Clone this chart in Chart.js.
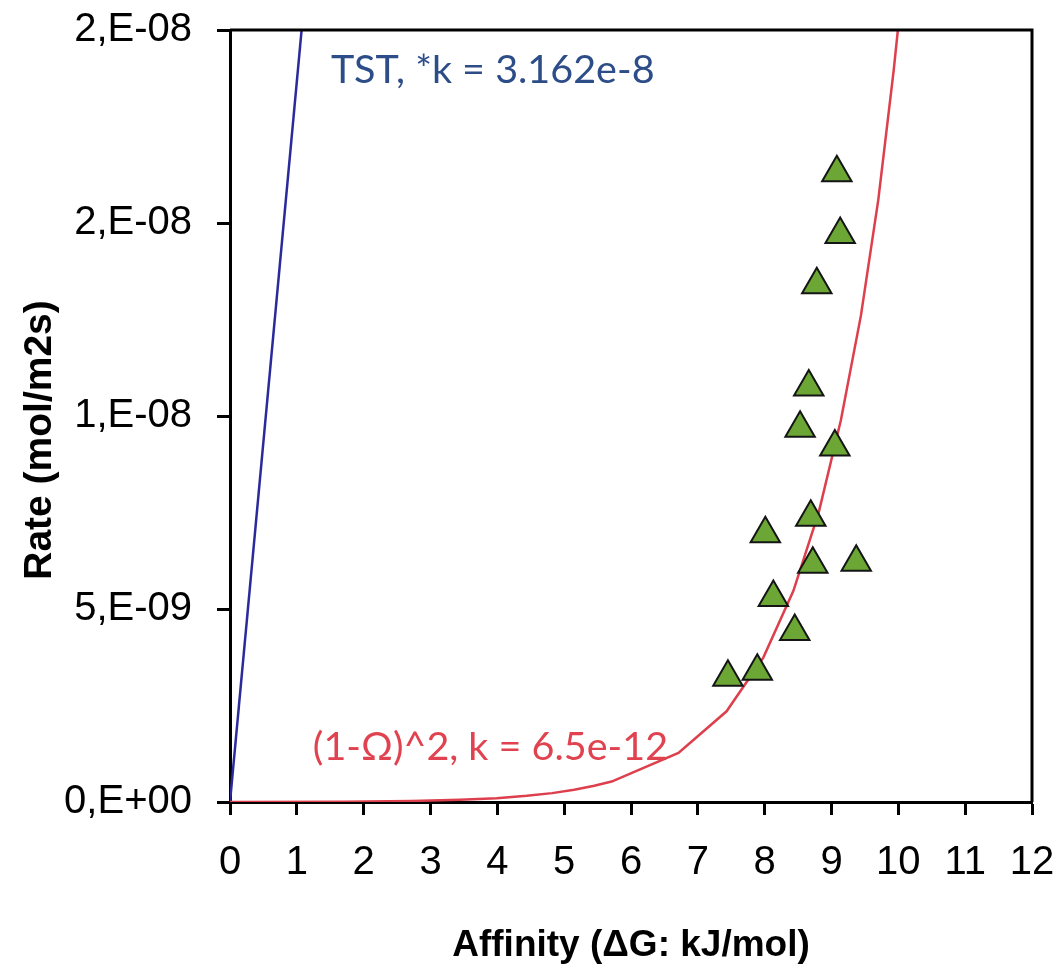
<!DOCTYPE html>
<html>
<head>
<meta charset="utf-8">
<script src="https://cdn.jsdelivr.net/npm/chart.js@4.4.1/dist/chart.umd.min.js"></script>
<style>
  html, body { margin: 0; padding: 0; background: #fff; }
  #wrap { width: 1059px; height: 971px; position: relative; }
</style>
</head>
<body>
<div id="wrap"><canvas id="c"></canvas></div>
<script>
/* Rate vs affinity: measured points + two rate laws */

// measured rates (triangles)
const obsAffinity = [9.08, 9.13, 8.78, 8.66, 8.53, 9.05, 8.69, 8.01, 8.72, 9.37, 8.13, 8.45, 7.89, 7.45];
const obsRate = [16.3e-9, 14.7e-9, 13.4e-9, 10.75e-9, 9.68e-9, 9.2e-9, 7.38e-9, 6.95e-9, 6.16e-9, 6.21e-9, 5.3e-9, 4.42e-9, 3.39e-9, 3.23e-9];

// (1-Ω)^2 law, red curve
const sqAffinity = [0, 1.72, 2.72, 3.44, 3.99, 4.44, 4.82, 5.15, 5.45, 5.71, 6.71, 7.43, 7.98, 8.43, 8.81, 9.14, 9.44, 9.70, 9.93, 10.15];
const sqRate = [0, 0.007e-9, 0.026e-9, 0.06e-9, 0.10e-9, 0.16e-9, 0.23e-9, 0.32e-9, 0.42e-9, 0.53e-9, 1.27e-9, 2.35e-9, 3.74e-9, 5.47e-9, 7.51e-9, 9.89e-9, 12.6e-9, 15.6e-9, 18.95e-9, 22.6e-9];

// TST law, blue line (runs off the top)
const tstAffinity = [0, 1.5];
const tstRate = [0, 2.8e-8];

const yTickLabels = ['0,E+00', '5,E-09', '1,E-08', '2,E-08', '2,E-08'];

// curve labels, anchored in data units (left / baseline)
const noteText = ['TST, *k = 3.162e-8', '(1-\u03A9)^2, k = 6.5e-12'];
const noteX = [1.51, 1.24];
const noteY = [18.63e-9, 1.09e-9];
const noteColor = ['#2d4d88', '#e0434f'];

const pts = (xs, ys) => xs.map((x, i) => ({ x, y: ys[i] }));

const TICK_FONT = { family: '"Liberation Sans", Arial, sans-serif', size: 40 };

const notes = {
  id: 'notes',
  afterDatasetsDraw(chart) {
    const { ctx, scales } = chart;
    ctx.save();
    ctx.font = '39.5px Lato, "Open Sans", sans-serif';
    ctx.textAlign = 'left';
    ctx.textBaseline = 'alphabetic';
    noteText.forEach((t, i) => {
      ctx.fillStyle = noteColor[i];
      ctx.fillText(t, scales.x.getPixelForValue(noteX[i]), scales.y.getPixelForValue(noteY[i]));
    });
    ctx.restore();
  },
};

// frame top/right + rotated y title (sits a bit below the axis centre)
const frame = {
  id: 'frame',
  afterDraw(chart) {
    const { ctx, chartArea: a } = chart;
    ctx.save();
    ctx.strokeStyle = '#000'; ctx.lineWidth = 3;
    ctx.beginPath();
    ctx.moveTo(a.left, a.top); ctx.lineTo(a.right, a.top); ctx.lineTo(a.right, a.bottom);
    ctx.stroke();
    ctx.translate(40, (a.top + a.bottom) / 2 + 24);
    ctx.rotate(-Math.PI / 2);
    ctx.font = 'bold 39px "Liberation Sans", Arial, sans-serif';
    ctx.fillStyle = '#000';
    ctx.textAlign = 'center'; ctx.textBaseline = 'middle';
    ctx.fillText('Rate (mol/m2s)', 0, 0);
    ctx.restore();
  },
};

new Chart(document.getElementById('c'), {
  type: 'scatter',
  data: {
    datasets: [
      { data: pts(obsAffinity, obsRate), pointStyle: 'triangle', pointRadius: 17,
        backgroundColor: '#6ca635', borderColor: '#151515', borderWidth: 2 },
      { data: pts(sqAffinity, sqRate), showLine: true, pointRadius: 0,
        borderColor: '#dd3f4c', borderWidth: 2.5, tension: 0 },
      { data: pts(tstAffinity, tstRate), showLine: true, pointRadius: 0,
        borderColor: '#2a2a9c', borderWidth: 2.5, tension: 0 },
    ],
  },
  options: {
    responsive: true, maintainAspectRatio: false, animation: false,
    layout: { padding: { top: 30, right: 27, left: 0, bottom: 0 } },
    plugins: { legend: { display: false }, tooltip: { enabled: false } },
    events: [],
    scales: {
      x: {
        type: 'linear', min: 0, max: 12,
        afterFit: s => { s.height = 169; s.paddingLeft = 0; s.paddingRight = 0; },
        ticks: { stepSize: 1, font: TICK_FONT, color: '#000', padding: 24, maxRotation: 0 },
        grid: { drawOnChartArea: false, tickLength: 13, tickColor: '#000', tickWidth: 3 },
        border: { color: '#000', width: 3 },
        title: { display: true, text: 'Affinity (\u0394G: kJ/mol)', color: '#000',
          font: { family: '"Liberation Sans", Arial, sans-serif', size: 37, weight: 'bold' },
          padding: { top: 0, bottom: 3 } },
      },
      y: {
        type: 'linear', min: 0, max: 2e-8,
        afterFit: s => { s.width = 230; s.paddingTop = 0; s.paddingBottom = 0; },
        afterBuildTicks: s => { s.ticks = [0, 5e-9, 1e-8, 1.5e-8, 2e-8].map(v => ({ value: v })); },
        ticks: { font: TICK_FONT, color: '#000', padding: 25, callback: (v, i) => yTickLabels[i] },
        grid: { drawOnChartArea: false, tickLength: 13, tickColor: '#000', tickWidth: 3 },
        border: { color: '#000', width: 3 },
      },
    },
  },
  plugins: [notes, frame],
});
</script>
</body>
</html>
